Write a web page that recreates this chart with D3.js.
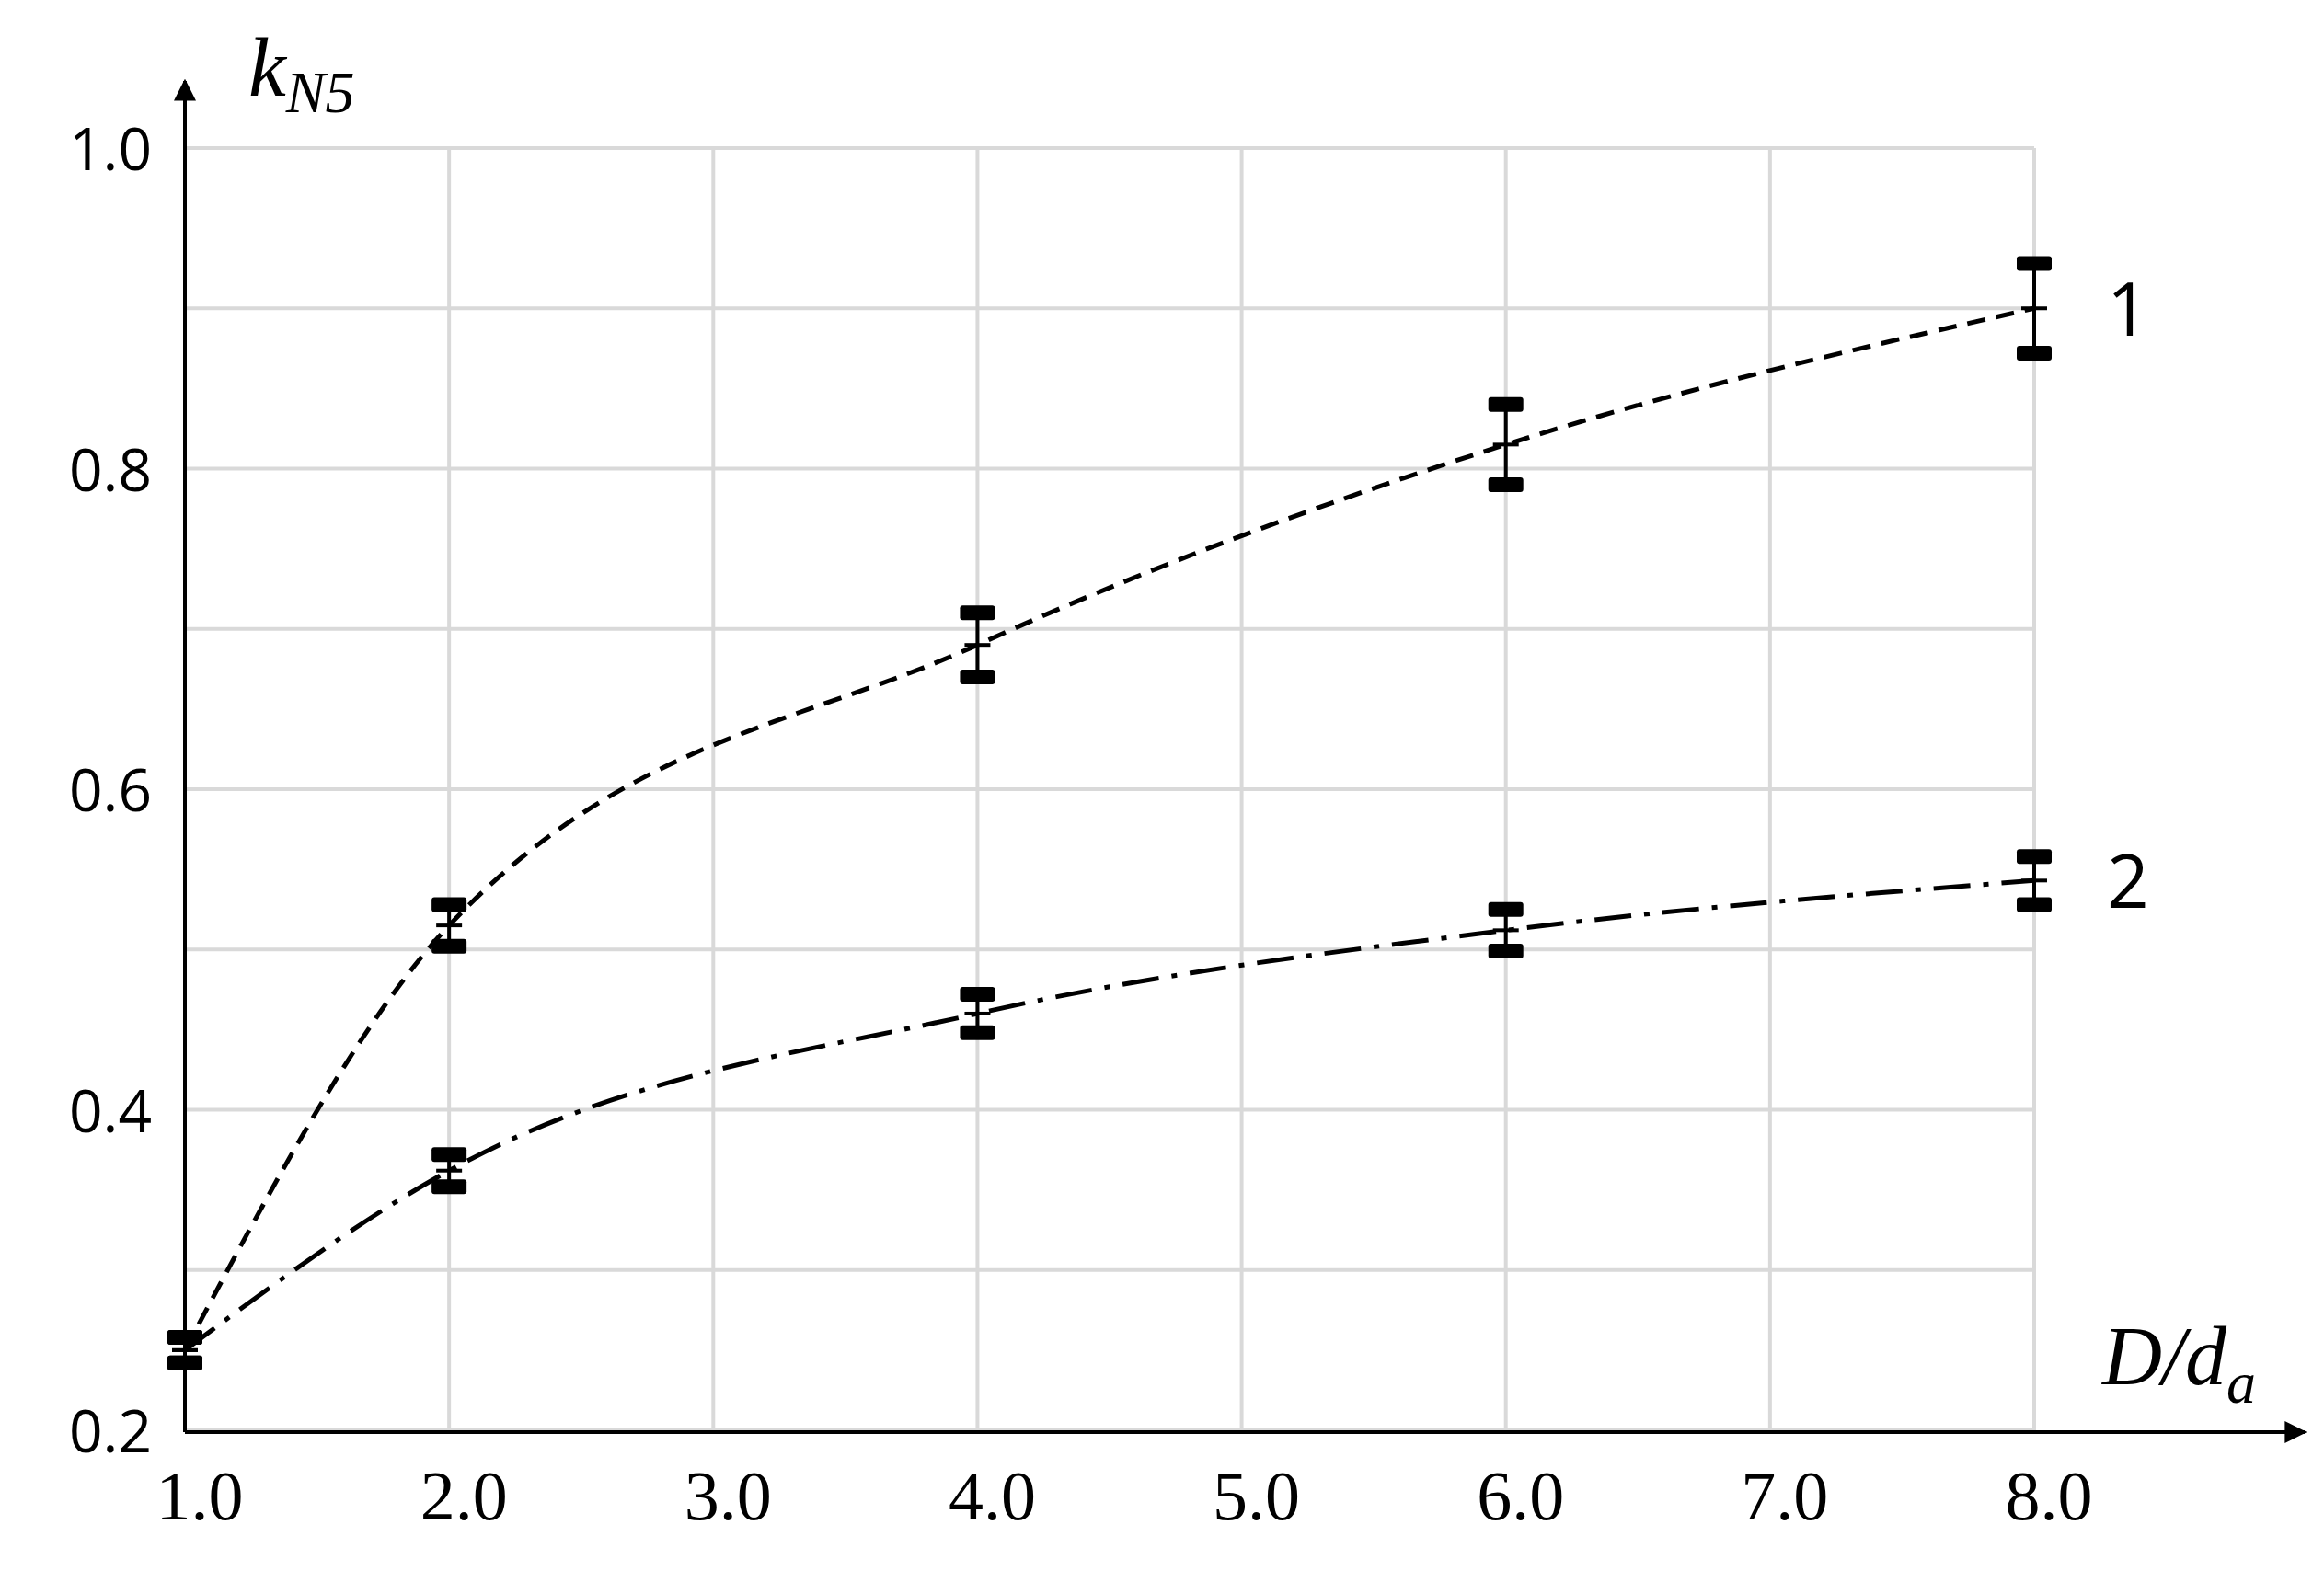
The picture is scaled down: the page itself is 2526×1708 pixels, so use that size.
<!DOCTYPE html>
<html><head><meta charset="utf-8">
<script src="https://cdn.jsdelivr.net/npm/d3@7"></script>
<style>body{margin:0;background:#fff}</style>
</head><body>
<svg id="chart" width="2526" height="1708"></svg>
<script>
var xVals = [1, 2, 4, 6, 8];
var series1 = [0.25, 0.515, 0.69, 0.815, 0.90];
var err1 = [0.008, 0.013, 0.02, 0.025, 0.028];
var series2 = [0.25, 0.362, 0.46, 0.512, 0.543];
var err2 = [0.008, 0.01, 0.012, 0.013, 0.015];
var xTicks = [1, 2, 3, 4, 5, 6, 7, 8];
var yTicks = [0.2, 0.3, 0.4, 0.5, 0.6, 0.7, 0.8, 0.9, 1.0];
var yLabels = [0.2, 0.4, 0.6, 0.8, 1.0];

var svg = d3.select("#chart");
var x = d3.scaleLinear().domain([1, 8]).range([201, 2211]);
var y = d3.scaleLinear().domain([0.2, 1.0]).range([1555, 161]);

// grid
svg.append("g").selectAll("line").data(xTicks.slice(1)).join("line")
  .attr("x1", d => x(d)).attr("x2", d => x(d)).attr("y1", y(1)).attr("y2", y(0.2))
  .attr("stroke", "#d9d9d9").attr("stroke-width", 4);
svg.append("g").selectAll("line").data(yTicks).join("line")
  .attr("x1", x(1)).attr("x2", x(8)).attr("y1", d => y(d)).attr("y2", d => y(d))
  .attr("stroke", "#d9d9d9").attr("stroke-width", 4);

// axes with arrows
svg.append("defs").append("marker").attr("id", "arr").attr("viewBox", "0 0 10 10")
  .attr("refX", 9).attr("refY", 5).attr("markerWidth", 6).attr("markerHeight", 6)
  .attr("orient", "auto-start-reverse").attr("markerUnits", "strokeWidth")
  .append("path").attr("d", "M0,0L10,5L0,10z").attr("fill", "#000");
svg.append("line").attr("x1", x(1)).attr("x2", 2505).attr("y1", y(0.2) + 2).attr("y2", y(0.2) + 2)
  .attr("stroke", "#000").attr("stroke-width", 4).attr("marker-end", "url(#arr)");
svg.append("line").attr("x1", x(1)).attr("x2", x(1)).attr("y1", y(0.2) + 2).attr("y2", 88)
  .attr("stroke", "#000").attr("stroke-width", 4).attr("marker-end", "url(#arr)");

// tick labels
svg.append("g").selectAll("text").data(xTicks).join("text")
  .attr("x", d => x(d) + 16).attr("y", 1652).attr("text-anchor", "middle")
  .attr("font-family", "Liberation Serif").attr("font-size", 76)
  .text(d => d.toFixed(1));
svg.append("g").selectAll("text").data(yLabels).join("text")
  .attr("x", 165).attr("y", d => y(d) + 24).attr("text-anchor", "end")
  .attr("font-family", "Open Sans").attr("font-size", 64)
  .text(d => d.toFixed(1));

// axis titles
var ky = svg.append("text").attr("x", 270).attr("y", 104)
  .attr("font-family", "Liberation Serif").attr("font-style", "italic").attr("font-size", 92);
ky.append("tspan").text("k");
ky.append("tspan").attr("font-size", 64).attr("dy", 18).text("N5");
var dx = svg.append("text").attr("x", 2285).attr("y", 1505)
  .attr("font-family", "Liberation Serif").attr("font-style", "italic").attr("font-size", 90);
dx.append("tspan").text("D/d");
dx.append("tspan").attr("font-size", 64).attr("dy", 20).text("a");

// curves
var line = d3.line().x(d => x(d[0])).y(d => y(d[1])).curve(d3.curveMonotoneX);
var pts1 = xVals.map((v, i) => [v, series1[i]]);
var pts2 = xVals.map((v, i) => [v, series2[i]]);
svg.append("path").attr("d", line(pts1)).attr("fill", "none").attr("stroke", "#000")
  .attr("stroke-width", 5).attr("stroke-dasharray", "20,12");
svg.append("path").attr("d", line(pts2)).attr("fill", "none").attr("stroke", "#000")
  .attr("stroke-width", 5).attr("stroke-dasharray", "40,14,6,14");

// error bars
function bars(vals, errs) {
  var g = svg.append("g");
  xVals.forEach(function (v, i) {
    var cx = x(v), lo = y(vals[i] - errs[i]), hi = y(vals[i] + errs[i]);
    g.append("line").attr("x1", cx).attr("x2", cx).attr("y1", lo).attr("y2", hi)
      .attr("stroke", "#000").attr("stroke-width", 4);
    [lo, hi].forEach(function (yy) {
      g.append("rect").attr("x", cx - 19).attr("y", yy - 8).attr("width", 38).attr("height", 16)
        .attr("rx", 3).attr("fill", "#000");
    });
    g.append("line").attr("x1", cx - 14).attr("x2", cx + 14).attr("y1", y(vals[i])).attr("y2", y(vals[i]))
      .attr("stroke", "#000").attr("stroke-width", 4);
  });
}
bars(series1, err1);
bars(series2, err2);

// series labels
svg.append("text").attr("x", 2290).attr("y", y(series1[4]) + 30)
  .attr("font-family", "Open Sans").attr("font-size", 80).text("1");
svg.append("text").attr("x", 2290).attr("y", y(series2[4]) + 30)
  .attr("font-family", "Open Sans").attr("font-size", 80).text("2");
</script>
</body></html>
